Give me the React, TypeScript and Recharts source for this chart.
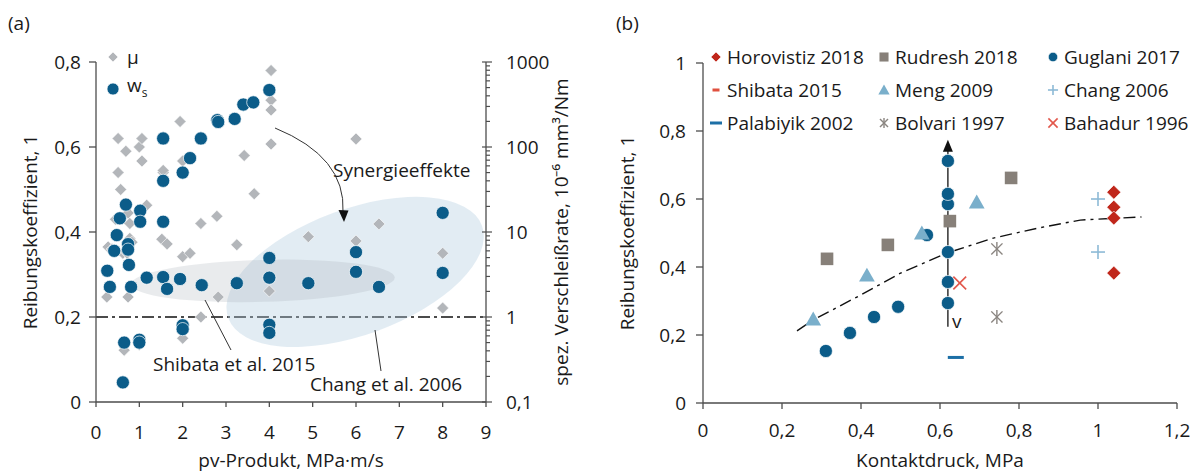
import React from 'react';
import { ScatterChart, Scatter, XAxis, YAxis, ReferenceLine, ReferenceDot, Legend } from 'recharts';

const FONT = '"Open Sans", sans-serif';
const FS = 19;
const TXT = '#1a1a1a';
const AXIS = '#4d4d4d';

// ---------- (a) pv-Produkt ----------
const pvTicks = [0, 1, 2, 3, 4, 5, 6, 7, 8, 9];
const muTicksA = [0, 0.2, 0.4, 0.6, 0.8];
const wsTicks = [0.1, 0.2, 0.3, 0.4, 0.5, 0.6, 0.7, 0.8, 0.9, 1, 2, 3, 4, 5, 6, 7, 8, 9, 10, 20, 30, 40, 50, 60, 70, 80, 90, 100, 200, 300, 400, 500, 600, 700, 800, 900, 1000];

const muPoints = [
  { pv: 0.25, mu: 0.247 }, { pv: 0.28, mu: 0.365 }, { pv: 0.37, mu: 0.36 }, { pv: 0.45, mu: 0.43 },
  { pv: 0.51, mu: 0.62 }, { pv: 0.51, mu: 0.54 }, { pv: 0.57, mu: 0.5 }, { pv: 0.62, mu: 0.35 },
  { pv: 0.65, mu: 0.122 }, { pv: 0.69, mu: 0.59 }, { pv: 0.72, mu: 0.35 }, { pv: 0.74, mu: 0.445 },
  { pv: 0.74, mu: 0.247 }, { pv: 0.78, mu: 0.42 }, { pv: 0.78, mu: 0.385 }, { pv: 0.83, mu: 0.376 },
  { pv: 1.0, mu: 0.6 }, { pv: 1.0, mu: 0.135 }, { pv: 1.06, mu: 0.62 }, { pv: 1.06, mu: 0.567 },
  { pv: 1.17, mu: 0.463 }, { pv: 1.52, mu: 0.383 }, { pv: 1.55, mu: 0.54 }, { pv: 1.55, mu: 0.545 },
  { pv: 1.64, mu: 0.372 }, { pv: 1.94, mu: 0.66 }, { pv: 2.0, mu: 0.567 }, { pv: 2.0, mu: 0.342 },
  { pv: 2.0, mu: 0.15 }, { pv: 2.17, mu: 0.35 }, { pv: 2.42, mu: 0.42 }, { pv: 2.42, mu: 0.2 },
  { pv: 2.79, mu: 0.437 }, { pv: 2.82, mu: 0.665 }, { pv: 2.82, mu: 0.247 }, { pv: 3.25, mu: 0.37 },
  { pv: 3.42, mu: 0.58 }, { pv: 3.65, mu: 0.49 }, { pv: 4.04, mu: 0.78 }, { pv: 4.04, mu: 0.71 },
  { pv: 4.04, mu: 0.687 }, { pv: 4.04, mu: 0.607 }, { pv: 4.0, mu: 0.261 }, { pv: 4.9, mu: 0.389 },
  { pv: 6.0, mu: 0.619 }, { pv: 6.0, mu: 0.379 }, { pv: 6.53, mu: 0.419 }, { pv: 8.0, mu: 0.35 },
  { pv: 8.0, mu: 0.221 },
];

const wsPoints = [
  { pv: 0.26, ws: 3.5 }, { pv: 0.32, ws: 2.26 }, { pv: 0.42, ws: 6.0 }, { pv: 0.48, ws: 9.2 },
  { pv: 0.55, ws: 14.5 }, { pv: 0.65, ws: 0.5 }, { pv: 0.62, ws: 0.17 }, { pv: 0.69, ws: 21 },
  { pv: 0.74, ws: 7.2 }, { pv: 0.74, ws: 6.2 }, { pv: 0.76, ws: 4.1 }, { pv: 0.81, ws: 2.26 },
  { pv: 1.0, ws: 0.54 }, { pv: 1.0, ws: 0.5 }, { pv: 1.02, ws: 17.8 }, { pv: 1.02, ws: 13.2 },
  { pv: 1.17, ws: 2.9 }, { pv: 1.55, ws: 126 }, { pv: 1.55, ws: 40 }, { pv: 1.55, ws: 13.2 },
  { pv: 1.55, ws: 2.95 }, { pv: 1.64, ws: 2.14 }, { pv: 1.94, ws: 2.8 }, { pv: 2.0, ws: 50 },
  { pv: 2.0, ws: 0.8 }, { pv: 2.0, ws: 0.72 }, { pv: 2.17, ws: 74 }, { pv: 2.42, ws: 126 },
  { pv: 2.44, ws: 2.37 }, { pv: 2.8, ws: 207 }, { pv: 2.82, ws: 197 }, { pv: 3.2, ws: 214 },
  { pv: 3.25, ws: 2.5 }, { pv: 3.4, ws: 316 }, { pv: 3.63, ws: 335 }, { pv: 4.0, ws: 468 },
  { pv: 4.0, ws: 4.95 }, { pv: 4.0, ws: 2.9 }, { pv: 4.0, ws: 0.81 }, { pv: 4.0, ws: 0.65 },
  { pv: 4.9, ws: 2.5 }, { pv: 6.0, ws: 5.8 }, { pv: 6.0, ws: 3.4 }, { pv: 6.53, ws: 2.26 },
  { pv: 8.0, ws: 16.8 }, { pv: 8.0, ws: 3.3 },
];

const changArea = [{ pv: 5.98, mu: 0.306 }];
const shibataArea = [{ pv: 3.85, mu: 0.285 }];

// ---------- (b) Kontaktdruck ----------
const pTicks = [0, 0.2, 0.4, 0.6, 0.8, 1, 1.2];
const muTicksB = [0, 0.2, 0.4, 0.6, 0.8, 1];

const horovistiz = [{ p: 1.04, mu: 0.62 }, { p: 1.04, mu: 0.576 }, { p: 1.04, mu: 0.544 }, { p: 1.04, mu: 0.382 }];
const rudresh = [{ p: 0.314, mu: 0.424 }, { p: 0.468, mu: 0.465 }, { p: 0.625, mu: 0.535 }, { p: 0.78, mu: 0.662 }];
const guglani = [
  { p: 0.311, mu: 0.153 }, { p: 0.372, mu: 0.206 }, { p: 0.433, mu: 0.253 }, { p: 0.494, mu: 0.283 },
  { p: 0.567, mu: 0.494 }, { p: 0.62, mu: 0.294 }, { p: 0.62, mu: 0.356 }, { p: 0.62, mu: 0.444 },
  { p: 0.62, mu: 0.585 }, { p: 0.62, mu: 0.615 }, { p: 0.62, mu: 0.712 },
];
const shibata: { p: number; mu: number }[] = [];
const meng = [{ p: 0.279, mu: 0.247 }, { p: 0.415, mu: 0.376 }, { p: 0.554, mu: 0.5 }, { p: 0.693, mu: 0.591 }];
const chang = [{ p: 1.0, mu: 0.6 }, { p: 1.0, mu: 0.444 }];
const palabiyik = [{ p: 0.64, mu: 0.134 }];
const bolvari = [{ p: 0.744, mu: 0.453 }, { p: 0.744, mu: 0.253 }];
const bahadur = [{ p: 0.65, mu: 0.353 }];
const trend = [
  { p: 0.238, mu: 0.212 }, { p: 0.28, mu: 0.245 }, { p: 0.4, mu: 0.318 }, { p: 0.5, mu: 0.382 },
  { p: 0.617, mu: 0.441 }, { p: 0.735, mu: 0.485 }, { p: 0.85, mu: 0.515 }, { p: 0.955, mu: 0.538 },
  { p: 1.11, mu: 0.547 },
];
const vArrow = [{ p: 0.62, mu: 0.224 }, { p: 0.62, mu: 0.774 }];

const fmt = (v: number) => String(v).replace('.', ',');

type Kind = 'diamond' | 'square' | 'circle' | 'triangle' | 'plus' | 'asterisk' | 'cross' | 'dash';

const Marker = ({ kind, cx, cy, s, color }: { kind: Kind; cx: number; cy: number; s: number; color: string }) => {
  switch (kind) {
    case 'diamond':
      return <polygon points={`${cx},${cy - s} ${cx + s},${cy} ${cx},${cy + s} ${cx - s},${cy}`} fill={color} stroke="#fff" strokeWidth={0.6} />;
    case 'square':
      return <rect x={cx - s} y={cy - s} width={2 * s} height={2 * s} fill={color} />;
    case 'circle':
      return <circle cx={cx} cy={cy} r={s} fill={color} stroke="#fff" strokeWidth={0.7} />;
    case 'triangle':
      return <polygon points={`${cx},${cy - s} ${cx + s * 1.05},${cy + s * 0.85} ${cx - s * 1.05},${cy + s * 0.85}`} fill={color} />;
    case 'plus':
      return (
        <g stroke={color} strokeWidth={1.6}>
          <line x1={cx - s} y1={cy} x2={cx + s} y2={cy} />
          <line x1={cx} y1={cy - s} x2={cx} y2={cy + s} />
        </g>
      );
    case 'asterisk':
      return (
        <g stroke={color} strokeWidth={1.4}>
          <line x1={cx - s * 0.8} y1={cy - s * 0.8} x2={cx + s * 0.8} y2={cy + s * 0.8} />
          <line x1={cx - s * 0.8} y1={cy + s * 0.8} x2={cx + s * 0.8} y2={cy - s * 0.8} />
          <line x1={cx} y1={cy - s} x2={cx} y2={cy + s} />
        </g>
      );
    case 'cross':
      return (
        <g stroke={color} strokeWidth={1.6}>
          <line x1={cx - s * 0.8} y1={cy - s * 0.8} x2={cx + s * 0.8} y2={cy + s * 0.8} />
          <line x1={cx - s * 0.8} y1={cy + s * 0.8} x2={cx + s * 0.8} y2={cy - s * 0.8} />
        </g>
      );
    case 'dash':
      return <rect x={cx - s} y={cy - 1.5} width={2 * s} height={3} fill={color} />;
  }
  return null;
};

const seriesB = [
  { name: 'Horovistiz 2018', data: horovistiz, kind: 'diamond' as Kind, color: '#c0271b', s: 7 },
  { name: 'Rudresh 2018', data: rudresh, kind: 'square' as Kind, color: '#878079', s: 6.3 },
  { name: 'Guglani 2017', data: guglani, kind: 'circle' as Kind, color: '#0b5c89', s: 6.6 },
  { name: 'Shibata 2015', data: shibata, kind: 'dash' as Kind, color: '#e0503f', s: 5 },
  { name: 'Meng 2009', data: meng, kind: 'triangle' as Kind, color: '#7aafcb', s: 7.5 },
  { name: 'Chang 2006', data: chang, kind: 'plus' as Kind, color: '#8dbad6', s: 7 },
  { name: 'Palabiyik 2002', data: palabiyik, kind: 'dash' as Kind, color: '#1c6fa6', s: 8 },
  { name: 'Bolvari 1997', data: bolvari, kind: 'asterisk' as Kind, color: '#8a8580', s: 7 },
  { name: 'Bahadur 1996', data: bahadur, kind: 'cross' as Kind, color: '#e2574b', s: 8 },
];
// draw order: circles under triangles
const drawOrderB = [2, 1, 4, 0, 3, 5, 6, 7, 8];

const leftTick = (tickLen: number, gap: number) => (props: any) => {
  const { x, y, payload } = props;
  return (
    <g>
      <line x1={x - tickLen} y1={y} x2={x} y2={y} stroke={AXIS} strokeWidth={1.3} />
      <text x={x - gap} y={y + 7} textAnchor="end" fontSize={FS} fontFamily={FONT} fill={TXT}>{fmt(payload.value)}</text>
    </g>
  );
};

const bottomTick = (tickLen: number, gap: number) => (props: any) => {
  const { x, y, payload } = props;
  return (
    <g>
      <line x1={x} y1={y} x2={x} y2={y + tickLen} stroke={AXIS} strokeWidth={1.3} />
      <text x={x} y={y + gap} textAnchor="middle" fontSize={FS} fontFamily={FONT} fill={TXT}>{fmt(payload.value)}</text>
    </g>
  );
};

const logTick = (props: any) => {
  const { x, y, payload } = props;
  const v = payload.value as number;
  const major = Math.abs(Math.log10(v) - Math.round(Math.log10(v))) < 1e-6;
  return (
    <g>
      <line x1={major ? x - 4 : x} y1={y} x2={x + (major ? 6 : 4)} y2={y} stroke={AXIS} strokeWidth={1.2} />
      {major && (
        <text x={x + 20} y={y + 7} textAnchor="start" fontSize={FS} fontFamily={FONT} fill={TXT}>{fmt(v)}</text>
      )}
    </g>
  );
};

const ellipseShape = (rx: number, ry: number, rot: number, fill: string) => (p: any) => (
  <ellipse cx={p.cx} cy={p.cy} rx={rx} ry={ry} transform={`rotate(${rot} ${p.cx} ${p.cy})`} fill={fill} />
);

const legendA = () => (
  <div style={{ fontFamily: FONT, fontSize: FS, color: TXT, lineHeight: '28px' }}>
    <div style={{ display: 'flex', alignItems: 'center' }}>
      <svg width={14} height={14}><Marker kind="diamond" cx={7} cy={7} s={5} color="#b3b6ba" /></svg>
      <span style={{ marginLeft: 7 }}>μ</span>
    </div>
    <div style={{ display: 'flex', alignItems: 'center' }}>
      <svg width={14} height={14}><Marker kind="circle" cx={7} cy={7} s={6} color="#0b5c89" /></svg>
      <span style={{ marginLeft: 7 }}>w<sub style={{ fontSize: 12 }}>s</sub></span>
    </div>
  </div>
);

const legendB = () => (
  <div style={{ display: 'grid', gridTemplateColumns: '168px 169px 150px', rowGap: 4, fontFamily: FONT, fontSize: FS, color: TXT }}>
    {seriesB.map((s) => (
      <div key={s.name} style={{ display: 'flex', alignItems: 'center', height: 29 }}>
        <svg width={16} height={16}>
          <Marker kind={s.kind} cx={8} cy={8} s={s.kind === 'dash' ? (s.name.startsWith('Pal') ? 6 : 3.5) : s.s * 0.72} color={s.color} />
        </svg>
        <span style={{ marginLeft: 3 }}>{s.name}</span>
      </div>
    ))}
  </div>
);

const labelStyle = { fontFamily: FONT, fontSize: FS, fill: TXT };

export default function App() {
  return (
    <div style={{ position: 'absolute', left: 0, top: 0, width: 1200, height: 472, background: '#fff' }}>
      <div style={{ position: 'absolute', left: 0, top: 0 }}>
        <ScatterChart width={600} height={472} margin={{ top: 62, right: 0, bottom: 0, left: 0 }}>
          <XAxis dataKey="pv" type="number" domain={[0, 9]} ticks={pvTicks} interval={0} height={70}
            tickSize={0} tickMargin={0} tick={bottomTick(5, 37)} axisLine={{ stroke: AXIS, strokeWidth: 1.3 }}
            label={{ value: 'pv-Produkt, MPa·m/s', position: 'insideBottom', offset: 5, style: labelStyle }} />
          <YAxis yAxisId="mu" dataKey="mu" type="number" domain={[0, 0.8]} ticks={muTicksA} interval={0} width={96}
            tickSize={0} tickMargin={0} tick={leftTick(7, 15)} axisLine={{ stroke: AXIS, strokeWidth: 1.3 }}
            label={{ value: 'Reibungskoeffizient, 1', angle: -90, position: 'insideLeft', offset: 30, style: { ...labelStyle, textAnchor: 'middle' } }} />
          <YAxis yAxisId="ws" dataKey="ws" orientation="right" type="number" scale="log" domain={[0.1, 1000]} allowDataOverflow
            ticks={wsTicks} interval={0} width={114} tickSize={0} tickMargin={0} tick={logTick} axisLine={{ stroke: AXIS, strokeWidth: 1.3 }}
            label={{ value: 'spez. Verschleißrate, 10⁻⁶ mm³/Nm', angle: -90, position: 'insideRight', offset: 39, style: { ...labelStyle, textAnchor: 'middle' } }} />
          <Scatter yAxisId="mu" data={changArea} shape={ellipseShape(135, 63, -20, 'rgba(175,203,222,0.36)')} legendType="none" isAnimationActive={false} />
          <Scatter yAxisId="mu" data={shibataArea} shape={ellipseShape(132, 21, -1.5, 'rgba(165,172,178,0.24)')} legendType="none" isAnimationActive={false} />
          <ReferenceLine yAxisId="mu" y={0.2} stroke="#111" strokeWidth={1.4} strokeDasharray="12 4 3 4" />
          <Scatter yAxisId="mu" name="μ" data={muPoints} isAnimationActive={false}
            shape={(p: any) => <Marker kind="diamond" cx={p.cx} cy={p.cy} s={6} color="#b3b6ba" />} />
          <Scatter yAxisId="ws" name="ws" data={wsPoints} isAnimationActive={false}
            shape={(p: any) => <Marker kind="circle" cx={p.cx} cy={p.cy} s={6.6} color="#0b5c89" />} />
          <Legend layout="vertical" align="center" verticalAlign="middle" content={legendA}
            wrapperStyle={{ left: 106, top: 43, width: 60, height: 60 }} />
        </ScatterChart>
      </div>

      <div style={{ position: 'absolute', left: 600, top: 0 }}>
        <ScatterChart width={600} height={472} margin={{ top: 63, right: 23, bottom: 0, left: 0 }}>
          <XAxis dataKey="p" type="number" domain={[0, 1.2]} ticks={pTicks} interval={0} height={69}
            tickSize={0} tickMargin={0} tick={bottomTick(6, 34)} axisLine={{ stroke: AXIS, strokeWidth: 1.3 }}
            label={{ value: 'Kontaktdruck, MPa', position: 'insideBottom', offset: 5, style: labelStyle }} />
          <YAxis dataKey="mu" type="number" domain={[0, 1]} ticks={muTicksB} interval={0} width={103}
            tickSize={0} tickMargin={0} tick={leftTick(7, 17)} axisLine={{ stroke: AXIS, strokeWidth: 1.3 }}
            label={{ value: 'Reibungskoeffizient, 1', angle: -90, position: 'insideLeft', offset: 27, style: { ...labelStyle, textAnchor: 'middle' } }} />
          <Scatter data={trend} legendType="none" isAnimationActive={false} shape={() => <g />}
            line={{ stroke: '#111', strokeWidth: 1.4, strokeDasharray: '12 5 3 5' }} lineType="joint" />
          <ReferenceLine segment={[{ x: vArrow[0].p, y: vArrow[0].mu }, { x: vArrow[1].p, y: vArrow[1].mu - 0.03 }]} stroke="#111" strokeWidth={1.3} />
          <ReferenceDot x={vArrow[1].p} y={vArrow[1].mu} r={1}
            shape={(p: any) => <polygon points={`${p.cx},${p.cy} ${p.cx + 5},${p.cy + 12} ${p.cx - 5},${p.cy + 12}`} fill="#111" />} />
          {drawOrderB.map((i) => {
            const s = seriesB[i];
            return (
              <Scatter key={s.name} name={s.name} data={s.data} isAnimationActive={false}
                shape={(p: any) => <Marker kind={s.kind} cx={p.cx} cy={p.cy} s={s.s} color={s.color} />} />
            );
          })}
          <Legend layout="vertical" align="center" verticalAlign="middle" content={legendB}
            wrapperStyle={{ left: 108, top: 42, width: 492, height: 100 }} />
        </ScatterChart>
      </div>

      <svg width={1200} height={472} style={{ position: 'absolute', left: 0, top: 0, pointerEvents: 'none' }}>
        <g fontFamily={FONT} fontSize={FS} fill={TXT}>
          <text x={8} y={30}>(a)</text>
          <text x={616} y={30}>(b)</text>
          <text x={333} y={177}>Synergieeffekte</text>
          <text x={153} y={371}>Shibata et al. 2015</text>
          <text x={310} y={391}>Chang et al. 2006</text>
          <text x={952} y={328}>v</text>
        </g>
        <g stroke="#333" strokeWidth={1} fill="none">
          <line x1={205} y1={300} x2={231} y2={350} />
          <line x1={375} y1={330} x2={381} y2={371} />
          <path d="M275,128 Q346,157 343,212" />
        </g>
        <polygon points="344,222 338.5,210 348.5,210.5" fill="#111" />
      </svg>
    </div>
  );
}
